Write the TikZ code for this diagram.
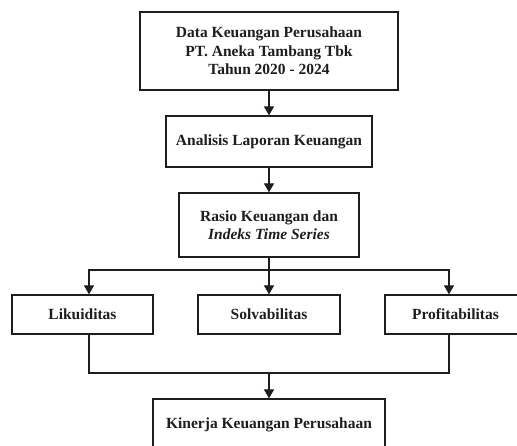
\documentclass[tikz,border=0pt]{standalone}
\usepackage{fontspec}
\setmainfont{Liberation Serif}
\usetikzlibrary{arrows.meta}
\definecolor{Ink}{HTML}{1E1E1E}

\begin{document}
\begin{tikzpicture}[x=1pt,y=-1pt,every node/.style={font=\fontsize{15.5}{18.5}\selectfont\bfseries,text=Ink,align=center},box/.style={draw=Ink,line width=1.3pt,inner sep=0pt},arrow/.style={-{Triangle[length=9pt,width=10pt]},line width=1.3pt,draw=Ink},link/.style={line width=1.3pt,draw=Ink}]
\clip (0,0) rectangle (517,446);
\fill[white] (0,0) rectangle (517,446);

\node[box,minimum width=258pt,minimum height=78pt] (data) at (269,51) {Data Keuangan Perusahaan\\PT. Aneka Tambang Tbk\\Tahun 2020 - 2024};
\node[box,minimum width=206pt,minimum height=51pt] (analisis) at (269,141.5) {Analisis Laporan Keuangan};
\node[box,minimum width=180pt,minimum height=64pt] (rasio) at (269,225) {Rasio Keuangan dan\\\textit{Indeks Time Series}};
\node[box,minimum width=141pt,minimum height=39pt] (likuid) at (82.5,314.5) {Likuiditas};
\node[box,minimum width=142pt,minimum height=39pt] (solva) at (269,314.5) {Solvabilitas};
\node[box,minimum width=141pt,minimum height=39pt] (profit) at (455.5,314.5) {Profitabilitas};
\node[box,minimum width=232pt,minimum height=52pt] (kinerja) at (269,425) {Kinerja Keuangan Perusahaan};

\coordinate (split) at (269,270); \coordinate (join) at (269,373);
\draw[arrow] (data) -- (analisis); \draw[arrow] (analisis) -- (rasio);
\draw[link] (rasio) -- (split);
\draw[arrow] (split) -| ([xshift=6.5pt]likuid.north); \draw[arrow] (split) -- (solva); \draw[arrow] (split) -| ([xshift=-6.5pt]profit.north);
\draw[link] ([xshift=6.5pt]likuid.south) |- (join) -| ([xshift=-6.5pt]profit.south);
\draw[arrow] (join) -- (kinerja);

\end{tikzpicture}
\end{document}
